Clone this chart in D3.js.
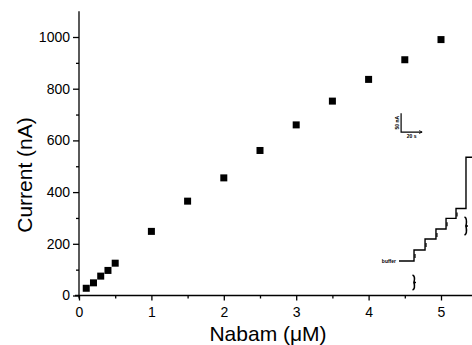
<!DOCTYPE html>
<html>
<head>
<meta charset="utf-8">
<script src="https://cdn.jsdelivr.net/npm/d3@7"></script>
<style>
  html, body { margin: 0; padding: 0; background: #fff; }
  svg { display: block; font-family: "Liberation Sans", Arial, sans-serif; }
</style>
</head>
<body>
<div id="chart"></div>
<script>
// calibration data: Nabam concentration (uM) vs current (nA)
const conc = [0.1, 0.2, 0.3, 0.4, 0.5, 1, 1.5, 2, 2.5, 3, 3.5, 4, 4.5, 5];
const current = [28, 49, 75, 97, 125, 248, 365, 455, 561, 660, 752, 836, 912, 990];

const xTicks = [0, 1, 2, 3, 4, 5];
const xMinor = [0.5, 1.5, 2.5, 3.5, 4.5];
const yTicks = [0, 200, 400, 600, 800, 1000];
const yMinor = [100, 300, 500, 700, 900];

// inset: amperometric step trace (arbitrary time / current units)
const traceTime = [0, 14.3, 24.8, 35.2, 44.8, 54.3, 63.8, 70];
const traceLevel = [0, 10.6, 21.2, 30.8, 41, 50.5, 99.7, 99.7];
const scaleBarTime = [2, 22];
const scaleBarLevel = [124, 142];

const width = 472, height = 345;

const svg = d3.select("#chart")
  .append("svg")
  .attr("width", width)
  .attr("height", height);

const x = d3.scaleLinear().domain([0, 5.5]).range([79, 79 + 5.5 * 72.4]);
const y = d3.scaleLinear().domain([0, 1000]).range([295.5, 37]);

// axes
const xAxis = svg.append("g")
  .attr("transform", `translate(0,${y(0)})`)
  .call(d3.axisBottom(x).tickValues(xTicks).tickSize(5).tickSizeOuter(0).tickFormat(d3.format("d")));
xAxis.select(".domain").attr("d", `M${x(0) - 4},0H${width}`);
xAxis.selectAll(".tick text").attr("font-size", 14).attr("dy", "0.95em");

svg.append("g")
  .attr("transform", `translate(0,${y(0)})`)
  .call(d3.axisBottom(x).tickValues(xMinor).tickSize(3).tickFormat(""))
  .call(g => g.select(".domain").remove());

const yAxis = svg.append("g")
  .attr("transform", `translate(${x(0)},0)`)
  .call(d3.axisLeft(y).tickValues(yTicks).tickSize(6).tickSizeOuter(0).tickFormat(d3.format("d")));
yAxis.select(".domain").attr("d", `M0,${y(0) + 3}V${y(1100)}`);
yAxis.selectAll(".tick text").attr("font-size", 14).attr("x", -9);

svg.append("g")
  .attr("transform", `translate(${x(0)},0)`)
  .call(d3.axisLeft(y).tickValues(yMinor).tickSize(3).tickFormat(""))
  .call(g => g.select(".domain").remove());

svg.selectAll(".domain, .tick line").attr("stroke", "#000").attr("stroke-width", 1.3);
svg.selectAll(".tick text").attr("fill", "#000");

// axis titles
svg.append("text")
  .attr("x", 268)
  .attr("y", 341)
  .attr("text-anchor", "middle")
  .attr("font-size", 21)
  .text("Nabam (\u03BCM)");

svg.append("text")
  .attr("transform", "translate(32,175) rotate(-90)")
  .attr("text-anchor", "middle")
  .attr("font-size", 21)
  .text("Current (nA)");

// data points
const sq = 7;
svg.append("g")
  .selectAll("rect")
  .data(conc.map((c, i) => [c, current[i]]))
  .join("rect")
  .attr("x", d => x(d[0]) - sq / 2)
  .attr("y", d => y(d[1]) - sq / 2)
  .attr("width", sq)
  .attr("height", sq)
  .attr("fill", "#000");

// inset trace
const ix = d3.scaleLinear().domain([0, 100]).range([399, 504]);
const iy = d3.scaleLinear().domain([0, 100]).range([261, 157]);
const inset = svg.append("g");

const trace = traceTime.map((t, i) => [t, traceLevel[i]]);
inset.append("path")
  .attr("d", d3.line().x(d => ix(d[0])).y(d => iy(d[1])).curve(d3.curveStepAfter)(trace))
  .attr("fill", "none")
  .attr("stroke", "#000")
  .attr("stroke-width", 1.4);

// little injection markers under each step
inset.append("g")
  .selectAll("line")
  .data(trace.slice(1, 6))
  .join("line")
  .attr("x1", d => ix(d[0]) + 1)
  .attr("x2", d => ix(d[0]) + 1)
  .attr("y1", d => iy(d[1]) + 4)
  .attr("y2", d => iy(d[1]) + 8)
  .attr("stroke", "#000")
  .attr("stroke-width", 1.2);

// braces
const braces = [[14.3, -13.5, -27.9], [63.8, 42.3, 25]];
inset.append("g")
  .selectAll("path")
  .data(braces)
  .join("path")
  .attr("d", d => {
    const cx = ix(d[0]), y1 = iy(d[1]), y2 = iy(d[2]), m = (y1 + y2) / 2;
    return `M${cx - 1.5},${y1}Q${cx + 1.5},${y1 + 1} ${cx},${m}L${cx + 2},${m}L${cx},${m}Q${cx + 1.5},${y2 - 1} ${cx - 1.5},${y2}`;
  })
  .attr("fill", "none")
  .attr("stroke", "#000")
  .attr("stroke-width", 1.6);

inset.append("text")
  .attr("x", ix(0) - 3)
  .attr("y", iy(0) + 1.5)
  .attr("text-anchor", "end")
  .attr("font-size", 5)
  .attr("font-weight", "bold")
  .text("buffer");

// scale bar
inset.append("path")
  .attr("d", `M${ix(scaleBarTime[0])},${iy(scaleBarLevel[1])}V${iy(scaleBarLevel[0])}H${ix(scaleBarTime[1])}`)
  .attr("fill", "none")
  .attr("stroke", "#000")
  .attr("stroke-width", 1.2);
inset.append("path")
  .attr("d", `M${ix(scaleBarTime[1]) - 3},${iy(scaleBarLevel[0]) - 1.5}L${ix(scaleBarTime[1])},${iy(scaleBarLevel[0])}L${ix(scaleBarTime[1]) - 3},${iy(scaleBarLevel[0]) + 1.5}`)
  .attr("fill", "none")
  .attr("stroke", "#000")
  .attr("stroke-width", 0.8);
inset.append("text")
  .attr("transform", `translate(${ix(scaleBarTime[0]) - 2},${iy((scaleBarLevel[0] + scaleBarLevel[1]) / 2)}) rotate(-90)`)
  .attr("text-anchor", "middle")
  .attr("font-size", 5)
  .attr("font-weight", "bold")
  .text("50 nA");
inset.append("text")
  .attr("x", ix((scaleBarTime[0] + scaleBarTime[1]) / 2))
  .attr("y", iy(scaleBarLevel[0]) + 6)
  .attr("text-anchor", "middle")
  .attr("font-size", 5)
  .attr("font-weight", "bold")
  .text("20 s");
</script>
</body>
</html>
